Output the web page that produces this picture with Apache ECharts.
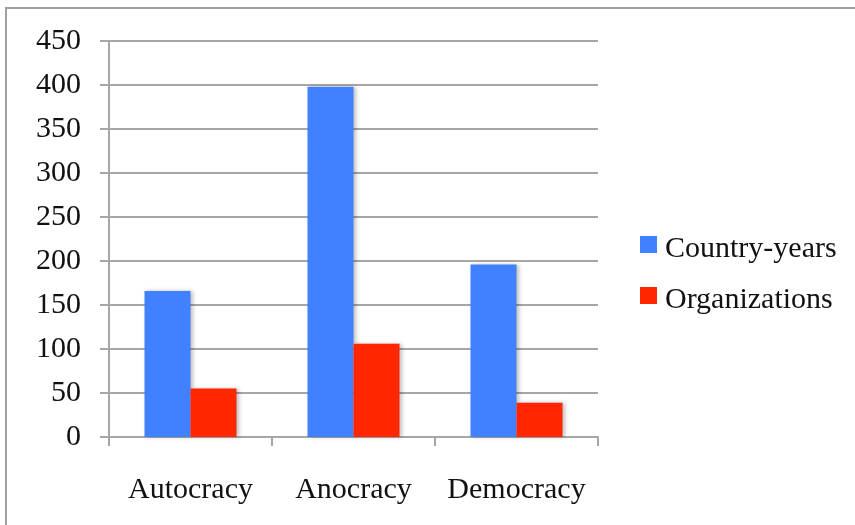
<!DOCTYPE html>
<html>
<head>
<meta charset="utf-8">
<script src="https://cdn.jsdelivr.net/npm/echarts@6/dist/echarts.min.js"></script>
<style>
    html, body { margin: 0; padding: 0; background: #fff; }
    #chart { width: 855px; height: 525px; }
</style>
</head>
<body>
<div id="chart"></div>
<script>
    // data
    var categories = ['Autocracy', 'Anocracy', 'Democracy'];
    var countryYears = [166, 398, 196];
    var organizations = [55, 106, 39];
    var seriesNames = ['Country-years', 'Organizations'];

    var serif = '"Liberation Serif", "DejaVu Serif", serif';
    var gridGrey = '#a6a6a6';

    var myChart = echarts.init(document.getElementById('chart'));
    var options = {
        backgroundColor: '#fff',
        animation: false,
        textStyle: { fontFamily: serif },
        graphic: [{
            // frame around the chart (runs off the right and bottom)
            type: 'rect',
            shape: { x: 6, y: 8, width: 900, height: 600 },
            style: { fill: 'none', stroke: '#a0a0a0', lineWidth: 2 },
            silent: true
        }],
        grid: {
            left: 109,
            right: 257,
            top: 41,
            bottom: 88
        },
        legend: {
            orient: 'vertical',
            left: 640,
            top: 234,
            padding: 0,
            itemWidth: 17,
            itemHeight: 17,
            itemGap: 21,
            icon: 'rect',
            data: seriesNames,
            formatter: '{t|{name}}',
            textStyle: {
                color: '#111',
                fontSize: 30,
                fontFamily: serif,
                rich: {
                    t: {
                        color: '#111',
                        fontSize: 30,
                        fontFamily: serif,
                        padding: [9, 0, 0, 3]
                    }
                }
            }
        },
        xAxis: {
            type: 'category',
            data: categories,
            axisLine: { lineStyle: { color: gridGrey, width: 2 } },
            axisTick: {
                show: true,
                alignWithLabel: false,
                length: 9,
                lineStyle: { color: gridGrey, width: 2 }
            },
            axisLabel: {
                color: '#111',
                fontSize: 30,
                fontFamily: serif,
                interval: 0,
                margin: 38
            }
        },
        yAxis: {
            type: 'value',
            min: 0,
            max: 450,
            interval: 50,
            axisLine: { show: true, lineStyle: { color: gridGrey, width: 2 } },
            axisTick: {
                show: true,
                inside: false,
                length: 9,
                lineStyle: { color: gridGrey, width: 2 }
            },
            axisLabel: {
                color: '#111',
                fontSize: 30,
                fontFamily: serif,
                margin: 28
            },
            splitLine: {
                show: true,
                lineStyle: { color: gridGrey, width: 2 }
            }
        },
        color: ['#4180ff', '#ff2600'],
        series: [{
            name: seriesNames[0],
            type: 'bar',
            data: countryYears,
            barWidth: 46,
            barGap: '0%',
            itemStyle: {
                shadowColor: 'rgba(0,0,0,0.25)',
                shadowBlur: 4,
                shadowOffsetX: 2
            }
        }, {
            name: seriesNames[1],
            type: 'bar',
            data: organizations,
            barWidth: 46,
            barGap: '0%',
            itemStyle: {
                shadowColor: 'rgba(0,0,0,0.25)',
                shadowBlur: 4,
                shadowOffsetX: 2
            }
        }]
    };
    myChart.setOption(options);
    window.addEventListener('resize', myChart.resize);
</script>
</body>
</html>
